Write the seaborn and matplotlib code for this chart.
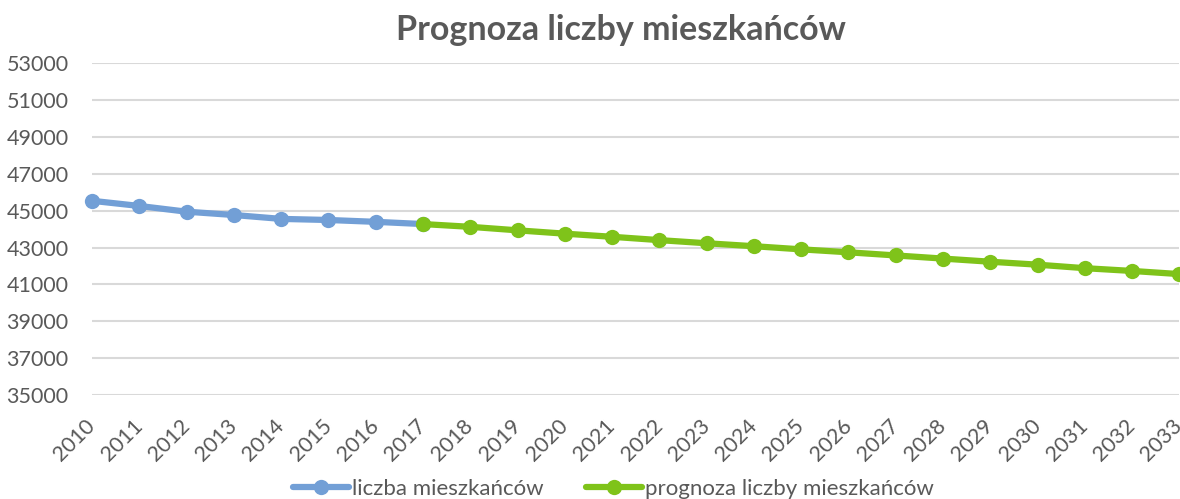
import pandas as pd
import matplotlib.pyplot as plt
import seaborn as sns

# dane
lata_hist = [2010, 2011, 2012, 2013, 2014, 2015, 2016, 2017]
liczba_hist = [45530, 45250, 44940, 44760, 44550, 44490, 44390, 44270]

lata_prog = list(range(2017, 2034))
liczba_prog = [44270, 44120, 43930, 43750, 43580, 43400, 43230, 43070,
               42900, 42740, 42570, 42400, 42230, 42070, 41880, 41730, 41560]

seria_hist = "liczba mieszkańców"
seria_prog = "prognoza liczby mieszkańców"

df = pd.concat([
    pd.DataFrame({"rok": lata_hist, "mieszkancy": liczba_hist, "seria": seria_hist}),
    pd.DataFrame({"rok": lata_prog, "mieszkancy": liczba_prog, "seria": seria_prog}),
])

sns.set_style("white")
plt.rcParams["font.family"] = ["Lato", "DejaVu Sans"]
szary = "#595959"

fig = plt.figure(figsize=(11.8, 4.99), dpi=100)
ax = fig.add_axes([0.078, 0.208, 0.9215, 0.666])

sns.lineplot(
    data=df, x="rok", y="mieszkancy", hue="seria",
    palette={seria_hist: "#729FD6", seria_prog: "#7FC31A"},
    marker="o", markersize=11, markeredgewidth=0, linewidth=4.5,
    ax=ax, clip_on=False,
)

ax.set_xlim(2010, 2033)
ax.set_ylim(35000, 53000)
ax.set_yticks(range(35000, 53001, 2000))
ax.set_xticks(range(2010, 2034))
ax.set_xticklabels([str(r) for r in range(2010, 2034)], rotation=45,
                   ha="right", va="center", rotation_mode="anchor")
ax.tick_params(axis="both", colors=szary, labelsize=15.5, length=0)
ax.tick_params(axis="x", pad=20)
ax.tick_params(axis="y", pad=17)
ax.grid(axis="y", color="#D9D9D9", linewidth=1.5)
ax.set_axisbelow(True)
ax.set_xlabel("")
ax.set_ylabel("")
sns.despine(ax=ax, left=True, bottom=True)

handles, labels = ax.get_legend_handles_labels()
ax.get_legend().remove()
fig.legend(handles, labels, loc="center", bbox_to_anchor=(0.52, 0.02),
           ncol=2, frameon=False, fontsize=16, labelcolor=szary,
           handlelength=2.5, handletextpad=0.15, columnspacing=1.9)

fig.text(0.526, 0.94, "Prognoza liczby mieszkańców", ha="center",
         va="center", fontsize=24.5, fontweight="bold", color=szary)

fig.savefig("out.png", dpi=100)
